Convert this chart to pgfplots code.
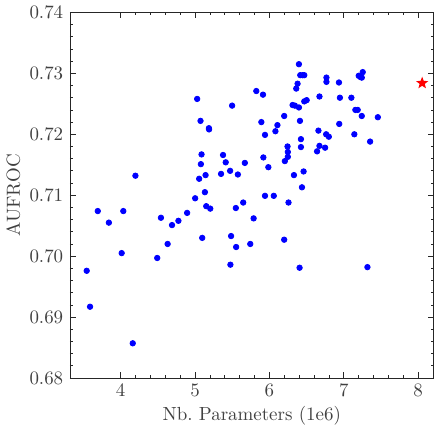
\documentclass[border=0pt]{standalone}
\usepackage{pgfplots}
\pgfplotsset{compat=1.18}
\definecolor{ptblue}{RGB}{0,0,255}
\definecolor{ptred}{RGB}{255,0,0}

% filled five-pointed star
\pgfdeclareplotmark{fstar}{%
  \pgfpathmoveto{\pgfpointpolar{90}{\pgfplotmarksize}}%
  \pgfpathlineto{\pgfpointpolar{126}{0.42\pgfplotmarksize}}%
  \pgfpathlineto{\pgfpointpolar{162}{\pgfplotmarksize}}%
  \pgfpathlineto{\pgfpointpolar{198}{0.42\pgfplotmarksize}}%
  \pgfpathlineto{\pgfpointpolar{234}{\pgfplotmarksize}}%
  \pgfpathlineto{\pgfpointpolar{270}{0.42\pgfplotmarksize}}%
  \pgfpathlineto{\pgfpointpolar{306}{\pgfplotmarksize}}%
  \pgfpathlineto{\pgfpointpolar{342}{0.42\pgfplotmarksize}}%
  \pgfpathlineto{\pgfpointpolar{18}{\pgfplotmarksize}}%
  \pgfpathlineto{\pgfpointpolar{54}{0.42\pgfplotmarksize}}%
  \pgfpathclose
  \pgfusepathqfill}

\begin{document}
\begin{tikzpicture}
\begin{axis}[
    scale only axis,
    width=192pt,
    height=193pt,
    xmin=3.318, xmax=8.208,
    ymin=0.68, ymax=0.74,
    xtick={4,5,6,7,8},
    ytick={0.68,0.69,0.70,0.71,0.72,0.73,0.74},
    minor x tick num=4,
    minor y tick num=4,
    tick align=inside,
    major tick length=3pt,
    minor tick length=1.6pt,
    yticklabel style={/pgf/number format/.cd, fixed, fixed zerofill, precision=2},
    xlabel={Nb.\ Parameters (1e6)},
    ylabel={AUFROC},
    ylabel style={yshift=-2pt},
    xlabel style={yshift=2pt},
    tick label style={text=black!75},
    label style={text=black!75},
    axis line style={black!85},
    every tick/.style={black!85},
]
\addplot[only marks, mark=*, mark size=1.45pt, color=ptblue] coordinates {
(3.544,0.6976) (3.589,0.6917) (3.693,0.7074) (3.842,0.7055) (4.014,0.7005)
(4.036,0.7074) (4.163,0.6857) (4.199,0.7132) (4.492,0.6997) (4.542,0.7063)
(4.632,0.7020) (4.691,0.7051) (4.777,0.7058) (4.894,0.7071) (5.002,0.7095)
(5.029,0.7258) (5.056,0.7127) (5.074,0.7222) (5.079,0.7151) (5.088,0.7167)
(5.097,0.7030) (5.133,0.7105) (5.142,0.7133) (5.151,0.7082) (5.187,0.7210)
(5.189,0.7208) (5.205,0.7078) (5.350,0.7135) (5.377,0.7166) (5.413,0.7154)
(5.472,0.7140) (5.476,0.6986) (5.485,0.7033) (5.499,0.7247) (5.549,0.7079)
(5.553,0.7015) (5.576,0.7134) (5.648,0.7088) (5.670,0.7153) (5.743,0.7020)
(5.788,0.7062) (5.824,0.7271) (5.892,0.7220) (5.914,0.7265) (5.919,0.7162)
(5.941,0.7199) (5.941,0.7099) (5.986,0.7146) (6.059,0.7099) (6.081,0.7205)
(6.108,0.7215) (6.199,0.7230) (6.199,0.7027) (6.208,0.7156) (6.244,0.7180)
(6.248,0.7171) (6.248,0.7163) (6.257,0.7088) (6.312,0.7248) (6.330,0.7133)
(6.343,0.7247) (6.361,0.7275) (6.379,0.7283) (6.397,0.7315) (6.397,0.7244)
(6.406,0.6981) (6.411,0.7222) (6.415,0.7297) (6.424,0.7192) (6.424,0.7179)
(6.438,0.7113) (6.447,0.7297) (6.460,0.7139) (6.469,0.7297) (6.469,0.7254)
(6.501,0.7256) (6.641,0.7172) (6.659,0.7206) (6.673,0.7262) (6.673,0.7181)
(6.749,0.7178) (6.763,0.7200) (6.767,0.7293) (6.767,0.7286) (6.799,0.7196)
(6.935,0.7285) (6.939,0.7217) (6.948,0.7260) (7.102,0.7260) (7.142,0.7200)
(7.156,0.7240) (7.187,0.7240) (7.201,0.7296) (7.223,0.7294) (7.242,0.7230)
(7.242,0.7293) (7.255,0.7302) (7.318,0.6982) (7.354,0.7188) (7.458,0.7228)
};
\addplot[only marks, mark=fstar, mark size=3.4pt, color=ptred] coordinates {
(8.054,0.7284)
};
\end{axis}
\end{tikzpicture}
\end{document}
